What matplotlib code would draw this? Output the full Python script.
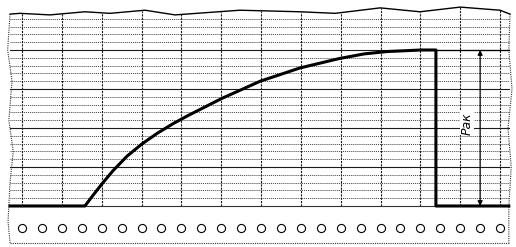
"""Chart recorder strip: pressure build-up trace with perforated tape edge.

x is measured in large grid divisions, y in small grid divisions.
"""

import numpy as np
import matplotlib.pyplot as plt

# pressure trace (x in large divisions, y in small divisions)
trace_x = [-0.30, 1.58, 1.78, 2.01, 2.28, 2.64, 3.01, 3.39, 3.79, 4.17,
           5.02, 5.98, 6.98, 7.96, 8.59, 9.16, 10.02, 10.39, 10.39, 12.22]
trace_y = [0.0, 0.0, 1.35, 2.85, 4.5, 6.4, 7.95, 9.3, 10.55, 11.6,
           13.8, 16.0, 17.7, 18.9, 19.5, 19.8, 20.0, 20.0, 0.0, 0.0]

# torn top edge of the paper
edge_x = [-0.30, -0.05, 0.70, 1.58, 2.21, 3.09, 3.84, 5.47, 6.98, 7.86,
          8.99, 9.99, 11.00, 12.00, 12.25]
edge_y = [24.6, 24.7, 24.5, 24.9, 24.7, 25.1, 24.5, 25.1, 24.9, 24.7,
          25.4, 24.9, 25.5, 25.1, 24.6]

# left / right paper edges (slightly wavy)
left_x = [-0.30, -0.36, -0.25, -0.33, -0.22, -0.30, -0.35, -0.30]
left_y = [24.6, 20.0, 16.0, 11.0, 7.0, 3.0, -2.0, -4.74]
right_x = [12.25, 12.22, 12.30, 12.20, 12.28, 12.22, 12.22]
right_y = [24.6, 20.0, 15.0, 10.0, 5.0, 0.0, -4.74]

grid_cols = np.arange(0, 13)        # large divisions
grid_rows = np.arange(1, 25)        # small divisions
hole_x = np.arange(0, 12.5, 0.5)    # sprocket holes, two per large division
hole_y = -2.76
strip_bottom = -4.74

peak_level = 20.0
peak_end = 10.39
dim_x = 11.5
label = "Рак"


def main() -> None:
    fig = plt.figure(figsize=(5.16, 2.47), dpi=100)
    ax = fig.add_axes([0, 0, 1, 1])
    ax.set_xlim(-0.552, 12.40)
    ax.set_ylim(-5.26, 26.41)
    ax.axis("off")

    # grid: every 5th small line is heavier
    for r in grid_rows:
        if r % 5 == 0:
            ax.plot([-0.30, 12.22], [r, r], color="0.1", linewidth=0.8)
        else:
            ax.plot([-0.30, 12.22], [r, r], color="0.25", linewidth=0.7,
                    linestyle=(0, (1, 1)))
    for c in grid_cols:
        top = np.interp(c, edge_x, edge_y)
        ax.plot([c, c], [0, top], color="0.1", linewidth=0.8,
                linestyle=(0, (2, 1)))

    # paper outline and tape strip
    ax.plot(edge_x, edge_y, color="black", linewidth=1.0)
    ax.plot(left_x, left_y, color="0.2", linewidth=0.8, linestyle=(0, (1, 1)))
    ax.plot(right_x, right_y, color="0.2", linewidth=0.8, linestyle=(0, (1, 1)))
    ax.plot([-0.30, 12.22], [0, 0], color="0.2", linewidth=0.8)
    ax.plot([-0.30, 12.22], [strip_bottom, strip_bottom], color="0.2",
            linewidth=0.8, linestyle=(0, (1, 1)))
    ax.scatter(hole_x, np.full(len(hole_x), hole_y), s=34, facecolor="white",
               edgecolor="black", linewidth=0.8, zorder=3)

    # recorded trace
    ax.plot(trace_x, trace_y, color="black", linewidth=2.2,
            solid_joinstyle="round", zorder=4)

    # amplitude dimension
    ax.plot([peak_end, 12.22], [peak_level, peak_level], color="black",
            linewidth=0.9)
    ax.annotate("", xy=(dim_x, peak_level), xytext=(dim_x, 0),
                arrowprops=dict(arrowstyle="<|-|>", color="black",
                                linewidth=0.9, mutation_scale=7,
                                shrinkA=0, shrinkB=0))
    ax.text(dim_x - 0.33, peak_level / 2 + 0.6, label, rotation=90,
            fontsize=9, style="italic", ha="center", va="center",
            bbox=dict(facecolor="white", edgecolor="none", pad=0.5))

    fig.savefig("out.png", dpi=100)
    plt.close(fig)


if __name__ == "__main__":
    main()
